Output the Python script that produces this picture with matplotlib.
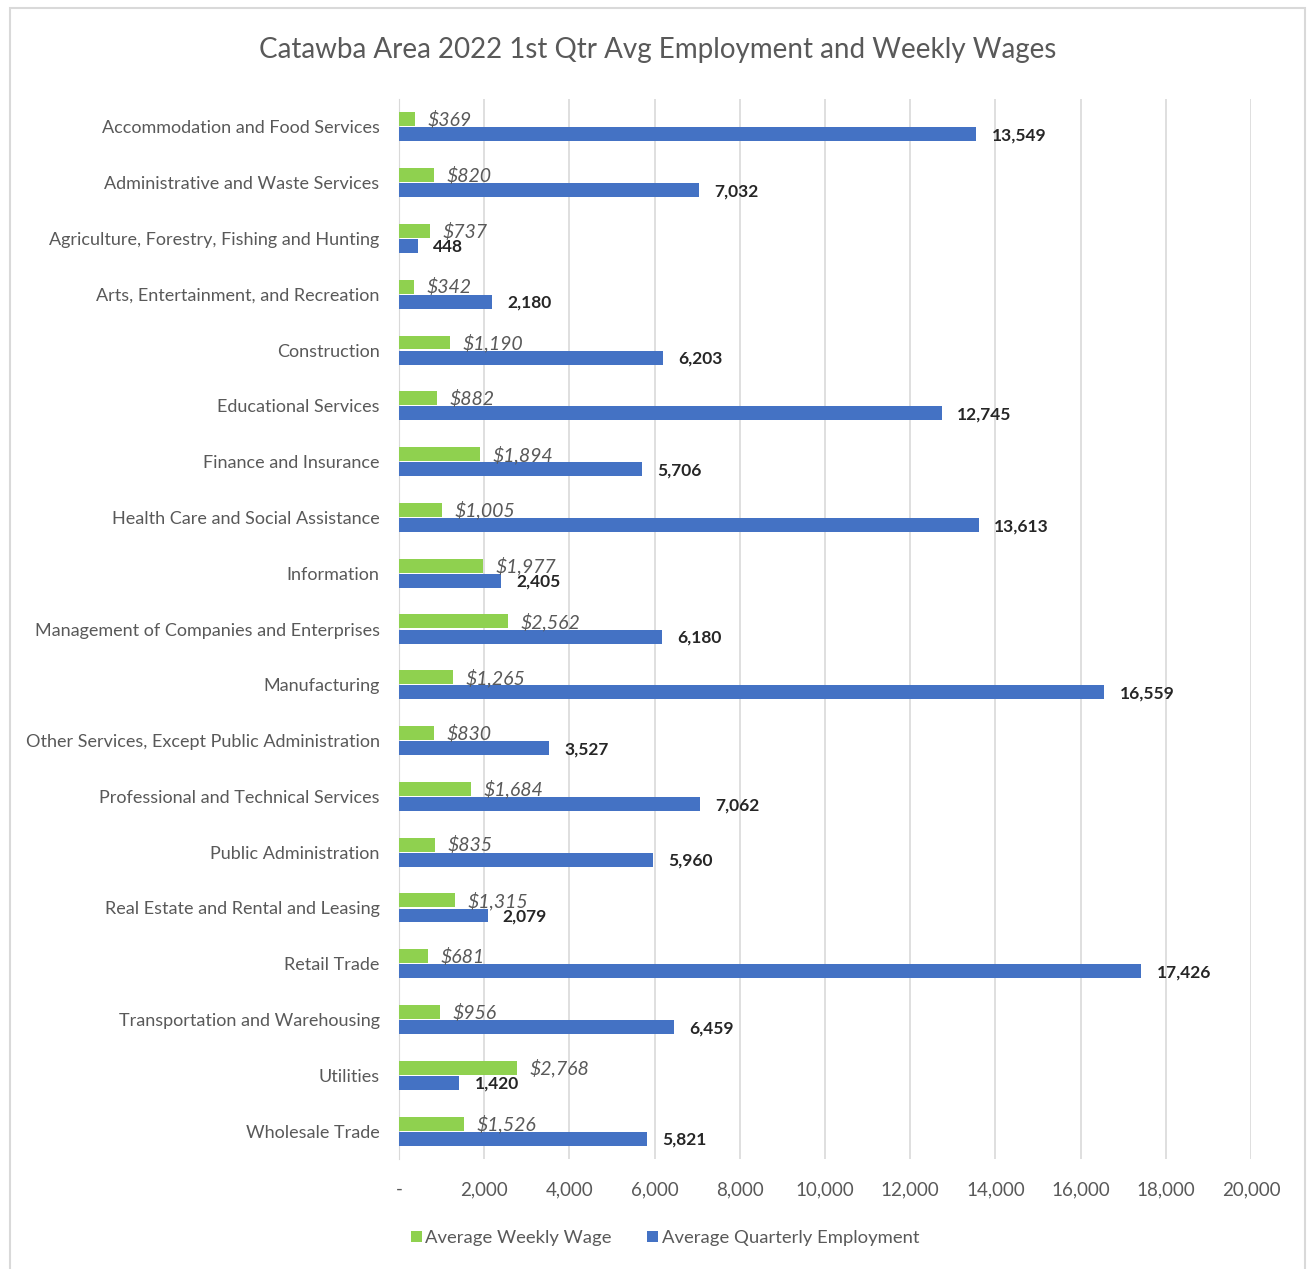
import numpy as np
import matplotlib.pyplot as plt
from matplotlib.patches import Rectangle

categories = [
    "Accommodation and Food Services",
    "Administrative and Waste Services",
    "Agriculture, Forestry, Fishing and Hunting",
    "Arts, Entertainment, and Recreation",
    "Construction",
    "Educational Services",
    "Finance and Insurance",
    "Health Care and Social Assistance",
    "Information",
    "Management of Companies and Enterprises",
    "Manufacturing",
    "Other Services, Except Public Administration",
    "Professional and Technical Services",
    "Public Administration",
    "Real Estate and Rental and Leasing",
    "Retail Trade",
    "Transportation and Warehousing",
    "Utilities",
    "Wholesale Trade",
]
weekly_wage = [369, 820, 737, 342, 1190, 882, 1894, 1005, 1977, 2562,
               1265, 830, 1684, 835, 1315, 681, 956, 2768, 1526]
employment = [13549, 7032, 448, 2180, 6203, 12745, 5706, 13613, 2405, 6180,
              16559, 3527, 7062, 5960, 2079, 17426, 6459, 1420, 5821]
x_ticks = list(range(0, 20001, 2000))
x_tick_labels = ["-"] + [f"{v:,}" for v in x_ticks[1:]]

GREEN = "#8FD14F"
BLUE = "#4472C4"
TEXT = "#595959"

plt.rcParams["font.family"] = ["Lato", "DejaVu Sans"]

fig = plt.figure(figsize=(13.07, 12.69), dpi=100)
fig.patches.append(Rectangle((10 / 1307, -0.01), 1295 / 1307, 1.0 - 8 / 1269 + 0.01,
                             transform=fig.transFigure, fill=False,
                             edgecolor="#D9D9D9", linewidth=1.5))
ax = fig.add_axes([399 / 1307, 1 - 1159 / 1269, (1251 - 399) / 1307, (1159 - 99) / 1269])

y = np.arange(len(categories))
h = 0.25
ax.barh(y - h / 2 - 0.01, weekly_wage, height=h, color=GREEN, label="Average Weekly Wage", zorder=3)
ax.barh(y + h / 2 + 0.01, employment, height=h, color=BLUE, label="Average Quarterly Employment", zorder=3)

for yi, w, e in zip(y, weekly_wage, employment):
    ax.annotate(f"${w:,}", (w, yi - h / 2 + 0.0), xytext=(9, 0), textcoords="offset points",
                va="center", ha="left", fontsize=14, style="italic", color=TEXT, zorder=4)
    ax.annotate(f"{e:,}", (e, yi + h / 2 + 0.03), xytext=(11, 0), textcoords="offset points",
                va="center", ha="left", fontsize=12.5, fontweight="bold", color="#262626", zorder=4)

ax.set_ylim(len(categories) - 0.5, -0.5)
ax.set_xlim(0, 20000)
ax.set_yticks(y)
ax.set_yticklabels(categories, fontsize=13, color=TEXT)
ax.set_xticks(x_ticks)
ax.set_xticklabels(x_tick_labels, fontsize=13.5, color=TEXT)
ax.tick_params(axis="x", length=0, pad=16)
ax.tick_params(axis="y", length=0, pad=14)
ax.grid(axis="x", color="#D9D9D9", linewidth=1.2, zorder=0)
for side in ["top", "right", "bottom"]:
    ax.spines[side].set_visible(False)
ax.spines["left"].set_color("#D9D9D9")

fig.text(658 / 1307, 1 - 50 / 1269, "Catawba Area 2022 1st Qtr Avg Employment and Weekly Wages",
         ha="center", va="center", fontsize=20, color=TEXT)

fig.legend(loc="center", bbox_to_anchor=(665 / 1307, 1 - 1238 / 1269), ncol=2, frameon=False,
           fontsize=13.3, labelcolor=TEXT, handlelength=0.6, handleheight=0.6,
           handletextpad=0.2, columnspacing=1.9)

fig.savefig("out.png", dpi=100)
